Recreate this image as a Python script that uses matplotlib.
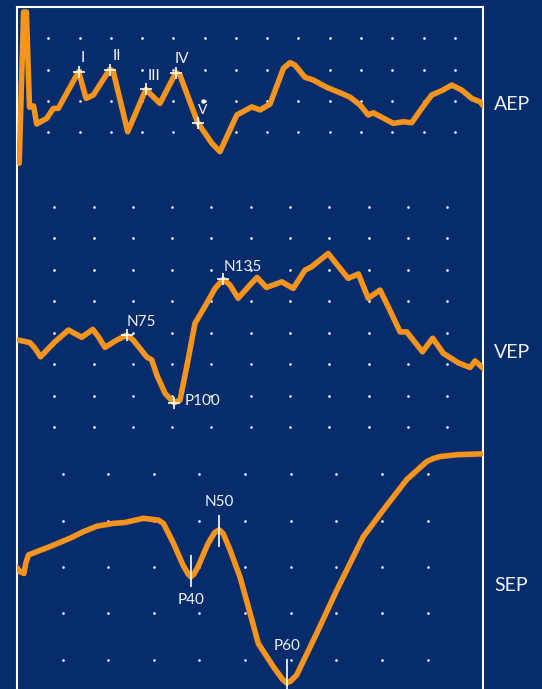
import matplotlib.pyplot as plt
import matplotlib.transforms as mtransforms
import numpy as np

# colours
bg = '#072c6c'
orange = '#f7941d'
fg = '#eef1f8'

# AEP trace (time / amplitude in screen divisions)
aep_t = [0.07, 0.21, 0.30, 0.40, 0.53, 0.63, 0.95, 1.16, 1.32, 1.97, 2.21, 2.44,
         2.97, 3.08, 3.54, 4.12, 4.57, 5.08, 5.21, 5.78, 6.23, 6.49, 7.03, 7.51,
         7.77, 8.09, 8.52, 8.73, 8.89, 9.21, 9.48, 9.90, 10.43, 10.65, 10.97,
         11.23, 11.39, 12.03, 12.35, 12.62, 12.94, 13.26, 13.58, 13.90, 14.22,
         14.54, 14.81, 14.95]
aep_v = [-1.01, 3.85, 3.85, 0.79, 0.83, 0.25, 0.43, 0.75, 0.75, 1.93, 1.07, 1.18,
         2.01, 1.93, 0.0, 1.36, 0.91, 1.90, 1.82, 0.29, -0.37, -0.64, 0.54, 0.80,
         0.70, 0.89, 2.04, 2.22, 2.14, 1.75, 1.66, 1.43, 1.21, 1.11, 0.86,
         0.54, 0.61, 0.27, 0.32, 0.29, 0.75, 1.18, 1.32, 1.50, 1.34,
         1.07, 0.96, 0.78]
aep_peaks = ['I', 'II', 'III', 'IV', 'V']
aep_peak_t = [1.97, 2.97, 4.12, 5.08, 5.78]
aep_peak_v = [1.93, 2.00, 1.36, 1.90, 0.29]

# VEP trace
vep_t = [-0.92, -0.62, -0.49, -0.35, -0.19, 0.02, 0.36, 0.70, 0.98, 1.12, 1.29,
         1.59, 1.84, 2.01, 2.35, 2.48, 2.61, 2.82, 3.05, 3.20, 3.37, 3.58, 3.83,
         4.09, 4.30, 4.47, 4.68, 4.98, 5.16, 5.40, 5.79, 6.08, 6.38, 6.55, 6.97,
         7.27, 7.48, 7.74, 7.99, 8.29, 8.54, 8.80, 8.97, 9.37, 9.63, 9.90, 10.28,
         10.58, 10.71, 10.96]
vep_v = [2.77, 2.69, 2.51, 2.24, 2.45, 2.72, 3.09, 2.86, 3.11, 2.88, 2.54,
         2.77, 2.93, 2.77, 2.24, 2.14, 1.66, 1.08, 0.78, 0.87, 1.92, 3.30, 3.83,
         4.41, 4.70, 4.52, 4.10, 4.52, 4.76, 4.44, 4.62, 4.41, 4.99, 5.10, 5.52,
         5.05, 4.73, 4.87, 4.10, 4.36, 3.72, 3.03, 3.03, 2.40, 2.83, 2.35, 2.05,
         1.90, 2.11, 1.82]
vep_peaks = ['N75', 'P100', 'N135']
vep_peak_t = [1.84, 3.05, 4.30]
vep_peak_v = [2.93, 0.78, 4.70]

# SEP trace
sep_t = [-1.02, -0.94, -0.85, -0.81, -0.75, -0.57, -0.28, 0.16, 0.45, 0.75,
         1.11, 1.37, 1.77, 2.10, 2.21, 2.43, 2.64, 2.75, 2.81, 2.88, 2.97, 3.19,
         3.33, 3.43, 3.52, 3.67, 3.89, 4.11, 4.29, 4.62, 4.82, 4.91, 5.00, 5.13,
         5.57, 6.01, 6.59, 7.03, 7.54, 7.98, 8.13, 8.27, 8.64, 9.19]
sep_v = [2.01, 1.90, 1.86, 2.08, 2.26, 2.33, 2.44, 2.62, 2.76, 2.88,
         2.94, 2.96, 3.05, 3.01, 2.94, 2.51, 2.04, 1.85, 1.79, 1.85, 2.01, 2.51,
         2.74, 2.80, 2.72, 2.37, 1.78, 1.00, 0.35, -0.15, -0.42, -0.50, -0.46, -0.33,
         0.57, 1.50, 2.65, 3.23, 3.88, 4.27, 4.34, 4.38, 4.42, 4.44]
sep_peaks = ['P40', 'N50', 'P60']
sep_peak_t = [2.81, 3.43, 4.91]
sep_tick_lo = [1.56, 2.43, -0.70]
sep_tick_hi = [2.26, 3.12, 0.01]

W, H = 542, 689


def box(x0, y0, x1, y1):
    return [x0 / W, 1 - y1 / H, (x1 - x0) / W, (y1 - y0) / H]


def panel(rect, xlim, ylim, cols, rows):
    ax = fig.add_axes(rect)
    ax.set_xlim(*xlim)
    ax.set_ylim(*ylim)
    ax.axis('off')
    gx, gy = np.meshgrid(cols, rows)
    ax.scatter(gx.ravel(), gy.ravel(), s=3.5, color='white', linewidths=0, zorder=1)
    return ax


fig = plt.figure(figsize=(W / 100, H / 100), dpi=100, facecolor=bg)
plt.rcParams['font.family'] = ['Lato', 'DejaVu Sans']

# white frame, open at the bottom
frame = fig.add_axes(box(17, 7, 483, H + 10))
frame.set_facecolor('none')
frame.set_xticks([])
frame.set_yticks([])
for side in ['top', 'left', 'right']:
    frame.spines[side].set_color('white')
    frame.spines[side].set_linewidth(1.5)
frame.spines['bottom'].set_visible(False)

line_kw = dict(color=orange, lw=4, solid_joinstyle='round', solid_capstyle='round', zorder=2)
lab_kw = dict(color=fg, fontsize=11, textcoords='offset pixels', zorder=4)
plus_kw = dict(color='white', ms=9, mew=1.2, zorder=3)

# AEP
ax1 = panel(box(17, 7, 483, 170), (0, 14.9), (-1.23, 4.01), np.arange(1, 15), np.arange(0, 4))
ax1.plot(aep_t, aep_v, **line_kw)
ax1.plot(aep_peak_t, aep_peak_v, '+', **plus_kw)
aep_offsets = [(4, 14), (7, 14), (8, 13), (6, 14), (5, 13)]
for name, t, v, off in zip(aep_peaks, aep_peak_t, aep_peak_v, aep_offsets):
    fs = 10 if name == 'V' else 11
    ax1.annotate(name, (t, v), xytext=off, ha='center', va='center',
                 **{**lab_kw, 'fontsize': fs})
# small dot above the "V"
dot_tr = mtransforms.offset_copy(ax1.transData, fig=fig, x=5, y=22, units='dots')
ax1.plot([aep_peak_t[4]], [aep_peak_v[4]], 'o', color='white', ms=3.2,
         mew=0, transform=dot_tr, zorder=4)
ax1.text(1.0236, 0.86, 'AEP', transform=ax1.get_yaxis_transform(), color=fg,
         fontsize=14, ha='left', va='center')

# VEP
ax2 = panel(box(17, 170, 483, 445), (-0.949, 10.91), (-0.56, 8.17), np.arange(0, 11), np.arange(0, 8))
ax2.plot(vep_t, vep_v, **line_kw)
ax2.plot(vep_peak_t, vep_peak_v, '+', **plus_kw)
vep_offsets = [(0, 13), (10, 2), (0, 12)]
for name, t, v, off in zip(vep_peaks, vep_peak_t, vep_peak_v, vep_offsets):
    ax2.annotate(name, (t, v), xytext=off, ha='left', va='center', **lab_kw)
ax2.text(1.0236, 2.37, 'VEP', transform=ax2.get_yaxis_transform(), color=fg,
         fontsize=14, ha='left', va='center')

# SEP
ax3 = panel(box(17, 445, 483, 689), (-1.002, 9.217), (-0.63, 4.63), np.arange(0, 9), np.arange(0, 5))
ax3.plot(sep_t, sep_v, **line_kw)
ax3.vlines(sep_peak_t, sep_tick_lo, sep_tick_hi, color='white', lw=1.2, zorder=3)
for i, (name, t) in enumerate(zip(sep_peaks, sep_peak_t)):
    if i == 0:
        ax3.annotate(name, (t, sep_tick_lo[i]), xytext=(0, -13), ha='center', va='center', **lab_kw)
    else:
        ax3.annotate(name, (t, sep_tick_hi[i]), xytext=(0, 13), ha='center', va='center', **lab_kw)
ax3.text(1.0236, 1.61, 'SEP', transform=ax3.get_yaxis_transform(), color=fg,
         fontsize=14, ha='left', va='center')

fig.savefig('out.png', dpi=100, facecolor=bg)
